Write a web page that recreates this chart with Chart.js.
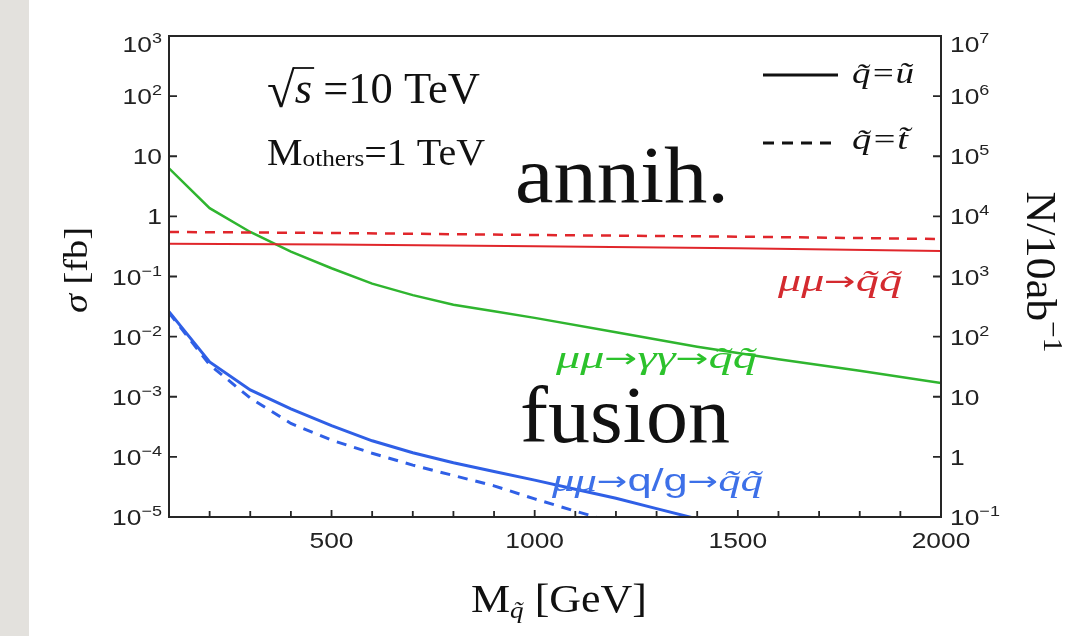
<!DOCTYPE html>
<html>
<head>
<meta charset="utf-8">
<script src="https://cdn.jsdelivr.net/npm/chart.js@4/dist/chart.umd.min.js"></script>
<style>
  html, body { margin: 0; padding: 0; background: #fff; }
  body { width: 1081px; height: 636px; overflow: hidden; position: relative; }
  .strip { position: absolute; left: 0; top: 0; width: 29px; height: 636px; background: #e3e1dd; }
  #wrap { position: absolute; left: 0; top: 0; width: 1081px; height: 636px; }
</style>
</head>
<body>
<div class="strip"></div>
<div id="wrap"><canvas id="c"></canvas></div>
<script>
'use strict';

/* Squark pair production at a 10 TeV muon collider: sigma vs squark mass. */

// annihilation mu mu -> sq sq
const MASS_ANN = [100, 500, 1000, 1500, 2000];
const SIGMA_ANN_U = [0.35, 0.34, 0.32, 0.295, 0.265];
const SIGMA_ANN_T = [0.55, 0.53, 0.49, 0.46, 0.42];

// photon fusion mu mu -> gamma gamma -> sq sq
const MASS_GG = [100, 200, 300, 400, 500, 600, 700, 800, 900, 1000, 1200, 1400, 1600, 1800, 2000];
const SIGMA_GG = [6.3, 1.37, 0.55, 0.26, 0.137, 0.076, 0.049, 0.034, 0.0265, 0.0205, 0.0118, 0.0068, 0.0042, 0.0027, 0.0017];

// q/g fusion, u-squark (solid) and stop (dashed)
const MASS_QG_U = [100, 200, 300, 400, 500, 600, 700, 800, 900, 1000, 1100, 1200, 1300, 1400];
const SIGMA_QG_U = [0.026, 0.0038, 0.0013, 6.3e-4, 3.3e-4, 1.85e-4, 1.17e-4, 8.0e-5, 5.7e-5, 4.1e-5, 2.9e-5, 2.05e-5, 1.38e-5, 0.93e-5];
const MASS_QG_T = [100, 200, 300, 400, 500, 600, 700, 800, 900, 1000, 1100, 1200];
const SIGMA_QG_T = [0.025, 0.0034, 9.5e-4, 3.6e-4, 1.9e-4, 1.15e-4, 7.3e-5, 4.9e-5, 3.3e-5, 2.0e-5, 1.25e-5, 0.8e-5];

const Y_TICKS = [1e-5, 1e-4, 1e-3, 1e-2, 1e-1, 1, 10, 100, 1000];
const Y_LABELS = ['10^\u22125', '10^\u22124', '10^\u22123', '10^\u22122', '10^\u22121', '1', '10', '10^2', '10^3'];
const N_TICKS = [0.1, 1, 10, 100, 1e3, 1e4, 1e5, 1e6, 1e7];
const N_LABELS = ['10^\u22121', '1', '10', '10^2', '10^3', '10^4', '10^5', '10^6', '10^7'];
const X_TICKS = [500, 1000, 1500, 2000];
const X_LABELS = ['500', '1000', '1500', '2000'];
const X_MINOR = [200, 300, 400, 600, 700, 800, 900, 1100, 1200, 1300, 1400, 1600, 1700, 1800, 1900];

const RED = '#e0262b';
const GREEN = '#2fb52f';
const BLUE = '#2f5fe6';
const INK = '#262626';
const SERIF = '"Liberation Serif", serif';
const SANS = '"Liberation Sans", Arial, sans-serif';
const ARROW = '"DejaVu Sans", sans-serif';

const pts = (xs, ys) => xs.map((x, i) => ({ x, y: ys[i] }));

function line(label, xs, ys, color, width, dash) {
  return {
    label,
    data: pts(xs, ys),
    borderColor: color,
    borderWidth: width,
    borderDash: dash || [],
    pointRadius: 0,
    tension: 0,
    fill: false,
    clip: 0,
  };
}

// draw a row of text runs; opts: align, sx (horizontal stretch), fit (target width), rot
function drawRuns(ctx, runs, x, y, opts) {
  opts = opts || {};
  ctx.save();
  let w = 0;
  runs.forEach((r) => {
    ctx.font = r.f;
    r.w = ctx.measureText(r.t).width;
    w += r.w;
  });
  const sx = opts.fit ? opts.fit / w : (opts.sx || 1);
  ctx.translate(x, y);
  if (opts.rot) ctx.rotate(opts.rot);
  ctx.scale(sx, 1);
  let cx = opts.align === 'right' ? -w : opts.align === 'center' ? -w / 2 : 0;
  ctx.textBaseline = 'alphabetic';
  ctx.textAlign = 'left';
  runs.forEach((r) => {
    ctx.font = r.f;
    ctx.fillStyle = r.c || opts.color || '#111';
    ctx.fillText(r.t, cx, r.dy || 0);
    r.x0 = cx;
    cx += r.w;
  });
  ctx.restore();
  return { runs, sx };
}

function sciRuns(label) {
  const [base, exp] = label.split('^');
  const runs = [{ t: base, f: '22px ' + SANS, c: '#222' }];
  if (exp) runs.push({ t: exp, f: '15px ' + SANS, dy: -9, c: '#222' });
  return runs;
}

// process label: italic mu/q pieces with a plain arrow
function procRuns(parts, color) {
  return parts.map((p) => {
    if (p === '\u2192') return { t: p, f: '26px ' + ARROW, c: color, dy: -1 };
    if (p === 'q/g') return { t: p, f: '31px ' + SANS, c: color };
    return { t: p, f: 'italic 32px ' + SERIF, c: color };
  });
}

const framePlugin = {
  id: 'frame',
  afterDraw(chart) {
    const { ctx, chartArea: a, scales } = chart;
    ctx.save();
    ctx.strokeStyle = INK;
    ctx.lineWidth = 2;
    ctx.strokeRect(a.left, a.top, a.right - a.left, a.bottom - a.top);

    // inward tick marks
    ctx.lineWidth = 1.8;
    ctx.beginPath();
    scales.y.ticks.forEach((t) => {
      const py = scales.y.getPixelForValue(t.value);
      ctx.moveTo(a.left, py); ctx.lineTo(a.left + 8, py);
    });
    scales.y2.ticks.forEach((t) => {
      const py = scales.y2.getPixelForValue(t.value);
      ctx.moveTo(a.right, py); ctx.lineTo(a.right - 8, py);
    });
    scales.x.ticks.forEach((t) => {
      const px = scales.x.getPixelForValue(t.value);
      ctx.moveTo(px, a.bottom); ctx.lineTo(px, a.bottom - 7);
    });
    X_MINOR.forEach((v) => {
      const px = scales.x.getPixelForValue(v);
      ctx.moveTo(px, a.bottom); ctx.lineTo(px, a.bottom - 6);
    });
    ctx.stroke();

    // tick labels
    scales.y.ticks.forEach((t, i) => {
      const py = scales.y.getPixelForValue(t.value);
      const dy = i === Y_TICKS.length - 1 ? 16 : 8;
      drawRuns(ctx, sciRuns(Y_LABELS[i]), a.left - 7, py + dy, { align: 'right', sx: 1.2 });
    });
    scales.y2.ticks.forEach((t, i) => {
      const py = scales.y2.getPixelForValue(t.value);
      const dy = i === N_TICKS.length - 1 ? 16 : 8;
      drawRuns(ctx, sciRuns(N_LABELS[i]), a.right + 9, py + dy, { align: 'left', sx: 1.2 });
    });
    scales.x.ticks.forEach((t, i) => {
      const px = scales.x.getPixelForValue(t.value);
      drawRuns(ctx, [{ t: X_LABELS[i], f: '22px ' + SANS, c: '#222' }], px, a.bottom + 31, { align: 'center', sx: 1.2 });
    });

    // axis titles
    drawRuns(ctx, [
      { t: '\u03c3', f: 'italic 34px ' + SERIF },
      { t: ' [fb]', f: '34px ' + SERIF },
    ], 87, 270, { align: 'center', rot: -Math.PI / 2, fit: 86 });
    drawRuns(ctx, [
      { t: 'N/10ab', f: '42px ' + SERIF },
      { t: '\u22121', f: '28px ' + SERIF, dy: -17 },
    ], 1027, 272, { align: 'center', rot: Math.PI / 2, fit: 161 });
    drawRuns(ctx, [
      { t: 'M', f: '39px ' + SERIF },
      { t: 'q\u0303', f: 'italic 24px ' + SERIF, dy: 6 },
      { t: ' [GeV]', f: '39px ' + SERIF },
    ], 471, 612, { fit: 176 });

    // energy and spectrum annotations
    const sq = drawRuns(ctx, [
      { t: '\u221a', f: '50px ' + SERIF, dy: 4 },
      { t: 's', f: 'italic 44px ' + SERIF },
      { t: ' =10 TeV', f: '44px ' + SERIF },
    ], 267, 103, { fit: 213 });
    const r0 = sq.runs[0], r1 = sq.runs[1];
    ctx.strokeStyle = '#111';
    ctx.lineWidth = 1.8;
    ctx.beginPath();
    ctx.moveTo(267 + (r0.x0 + r0.w - 2) * sq.sx, 68);
    ctx.lineTo(267 + (r1.x0 + r1.w + 2) * sq.sx, 68);
    ctx.stroke();
    drawRuns(ctx, [
      { t: 'M', f: '38px ' + SERIF },
      { t: 'others', f: '24px ' + SERIF, dy: 1 },
      { t: '=1 TeV', f: '38px ' + SERIF },
    ], 267, 165, { fit: 218 });

    // line style legend
    ctx.strokeStyle = '#111';
    ctx.lineWidth = 3;
    ctx.beginPath(); ctx.moveTo(763, 75); ctx.lineTo(838, 75); ctx.stroke();
    ctx.setLineDash([11, 8]);
    ctx.beginPath(); ctx.moveTo(763, 143); ctx.lineTo(836, 143); ctx.stroke();
    ctx.setLineDash([]);
    drawRuns(ctx, [{ t: 'q\u0303=u\u0303', f: 'italic 30px ' + SERIF }], 852, 83, { fit: 62 });
    drawRuns(ctx, [{ t: 'q\u0303=t\u0303', f: 'italic 30px ' + SERIF }], 852, 149, { fit: 56 });

    // process labels
    drawRuns(ctx, [{ t: 'annih.', f: '80px ' + SERIF }], 515, 202, { fit: 214 });
    drawRuns(ctx, [{ t: 'fusion', f: '80px ' + SERIF }], 520, 442, { fit: 210 });
    drawRuns(ctx, procRuns(['\u03bc\u03bc', '\u2192', 'q\u0303q\u0303'], '#d42a2f'), 778, 291, { fit: 124 });
    drawRuns(ctx, procRuns(['\u03bc\u03bc', '\u2192', '\u03b3\u03b3', '\u2192', 'q\u0303q\u0303'], '#2cc22c'), 556, 368, { fit: 201 });
    drawRuns(ctx, procRuns(['\u03bc\u03bc', '\u2192', 'q/g', '\u2192', 'q\u0303q\u0303'], '#3d70e8'), 552, 491, { fit: 211 });
    ctx.restore();
  },
};

const chart = new Chart(document.getElementById('c'), {
  type: 'line',
  data: {
    datasets: [
      line('annih. u', MASS_ANN, SIGMA_ANN_U, RED, 2),
      line('annih. t', MASS_ANN, SIGMA_ANN_T, RED, 2.5, [10, 8]),
      line('gamma gamma', MASS_GG, SIGMA_GG, GREEN, 2.5),
      line('q/g u', MASS_QG_U, SIGMA_QG_U, BLUE, 3),
      line('q/g t', MASS_QG_T, SIGMA_QG_T, BLUE, 3, [10, 8]),
    ],
  },
  options: {
    responsive: true,
    maintainAspectRatio: false,
    animation: false,
    layout: { padding: { left: 0, right: 0, top: 36, bottom: 0 } },
    scales: {
      x: {
        type: 'linear',
        position: 'bottom',
        min: 100,
        max: 2000,
        grid: { display: false },
        border: { display: false },
        ticks: { display: false },
        afterBuildTicks: (s) => { s.ticks = X_TICKS.map((v) => ({ value: v })); },
        afterFit: (s) => { s.height = 119; },
      },
      y: {
        type: 'logarithmic',
        position: 'left',
        min: 1e-5,
        max: 1e3,
        grid: { display: false },
        border: { display: false },
        ticks: { display: false },
        afterBuildTicks: (s) => { s.ticks = Y_TICKS.map((v) => ({ value: v })); },
        afterFit: (s) => { s.width = 169; },
      },
      y2: {
        type: 'logarithmic',
        position: 'right',
        min: 0.1,
        max: 1e7,
        grid: { display: false },
        border: { display: false },
        ticks: { display: false },
        afterBuildTicks: (s) => { s.ticks = N_TICKS.map((v) => ({ value: v })); },
        afterFit: (s) => { s.width = 140; },
      },
    },
    plugins: {
      legend: { display: false },
      tooltip: { enabled: false },
    },
  },
  plugins: [framePlugin],
});
</script>
</body>
</html>
